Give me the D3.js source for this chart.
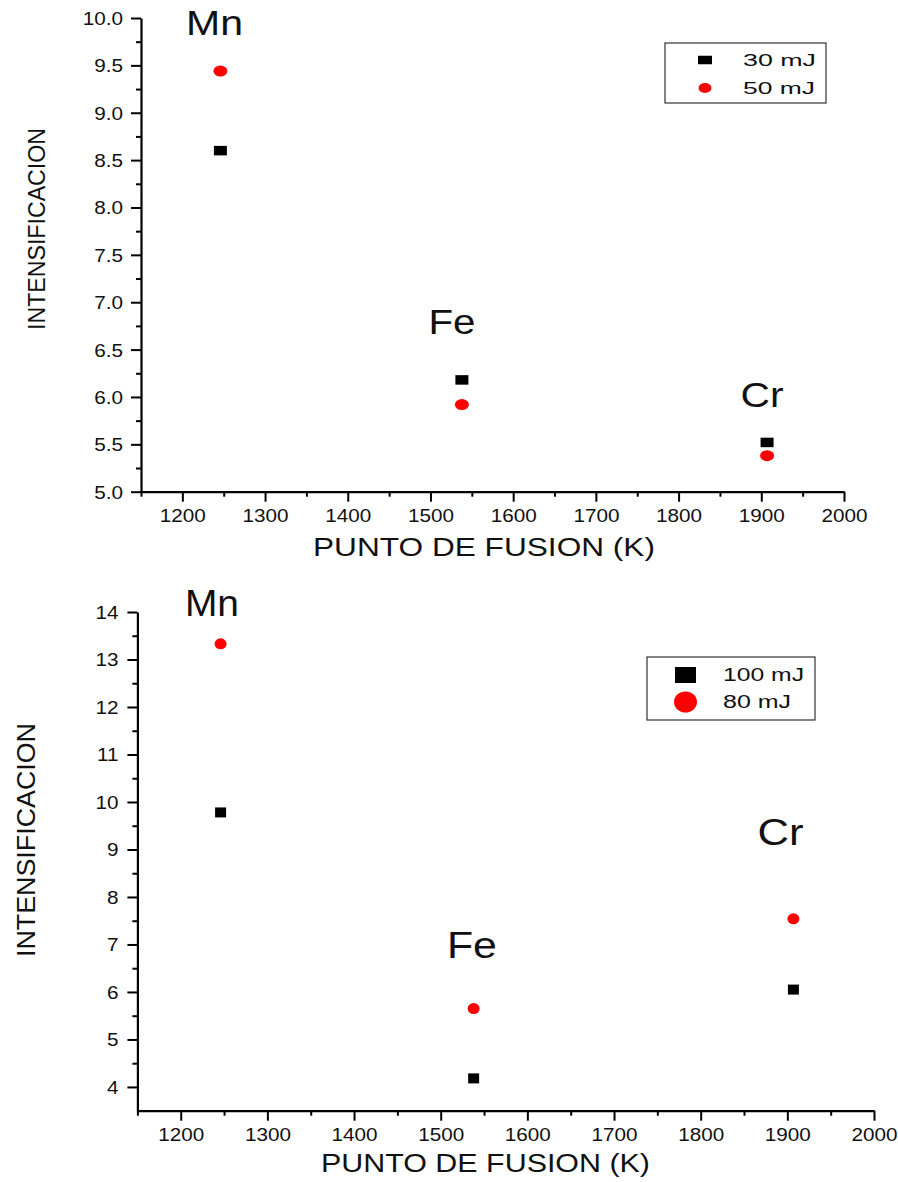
<!DOCTYPE html>
<html>
<head>
<meta charset="utf-8">
<script src="https://cdn.jsdelivr.net/npm/d3@7"></script>
<style>
  html, body { margin: 0; padding: 0; background: #fff; }
  svg { display: block; }
  text { font-family: "Liberation Sans", Arial, sans-serif; fill: #111; }
</style>
</head>
<body>
<svg id="chart" width="898" height="1182"></svg>
<script>
// ---------- DATA ----------
const elements = ["Mn", "Fe", "Cr"];
const meltingPoints = [1246, 1538, 1907];          // K

// Top panel
const topSeriesNames = ["30 mJ", "50 mJ"];
const top30 = [8.60, 6.18, 5.52];
const top50 = [9.44, 5.92, 5.38];
const topYTicks = [5.0, 5.5, 6.0, 6.5, 7.0, 7.5, 8.0, 8.5, 9.0, 9.5, 10.0];
// element label anchors in data units [K, value]
const topLabelK = [1239, 1526, 1901];
const topLabelV = [9.82, 6.665, 5.894];

// Bottom panel
const botSeriesNames = ["100 mJ", "80 mJ"];
const bot100 = [9.78, 4.18, 6.05];
const bot80 = [13.33, 5.65, 7.54];
const botYTicks = [4, 5, 6, 7, 8, 9, 10, 11, 12, 13, 14];
const botLabelK = [1236, 1536, 1892];
const botLabelV = [13.92, 6.72, 9.09];

const xTicks = [1200, 1300, 1400, 1500, 1600, 1700, 1800, 1900, 2000];
const xMinorTicks = [1150, 1250, 1350, 1450, 1550, 1650, 1750, 1850, 1950];
const xLabel = "PUNTO DE FUSION (K)";
const yLabel = "INTENSIFICACION";

// ---------- DRAW ----------
const svg = d3.select("#chart");
const SX = 1.15; // horizontal stretch of the original rendering

function panel(cfg) {
  const g = svg.append("g");
  const x = d3.scaleLinear().domain([1150, 2000]).range(cfg.xRange);
  const y = d3.scaleLinear().domain(cfg.yDomain).range(cfg.yRange);

  // minor ticks
  g.append("g").attr("transform", `translate(0,${cfg.yRange[0]})`)
    .call(d3.axisBottom(x).tickValues(xMinorTicks).tickSize(5).tickFormat(""))
    .call(s => s.select(".domain").remove())
    .selectAll("line").attr("stroke", "#000").attr("stroke-width", 2);
  g.append("g").attr("transform", `translate(${cfg.xRange[0]},0)`)
    .call(d3.axisLeft(y).tickValues(cfg.yMinor).tickSize(5).tickFormat(""))
    .call(s => s.select(".domain").remove())
    .selectAll("line").attr("stroke", "#000").attr("stroke-width", 2);

  // major x axis
  const gx = g.append("g").attr("transform", `translate(0,${cfg.yRange[0]})`)
    .call(d3.axisBottom(x).tickValues(xTicks).tickSize(10).tickSizeOuter(0).tickFormat(d3.format("d")));
  gx.select(".domain").attr("stroke", "#000").attr("stroke-width", 2.2);
  gx.selectAll(".tick line").attr("stroke", "#000").attr("stroke-width", 2);
  gx.selectAll(".tick text")
    .attr("y", null).attr("dy", null)
    .attr("transform", `translate(0,${cfg.xLabelOff}) scale(${SX},1)`)
    .attr("text-anchor", "middle")
    .style("font-size", "18px").style("font-family", '"Liberation Sans", Arial, sans-serif')
    .attr("fill", "#222");

  // major y axis
  const gy = g.append("g").attr("transform", `translate(${cfg.xRange[0]},0)`)
    .call(d3.axisLeft(y).tickValues(cfg.yTicks).tickSize(10).tickSizeOuter(0).tickFormat(cfg.yFormat));
  gy.select(".domain").attr("stroke", "#000").attr("stroke-width", 2.2);
  gy.selectAll(".tick line").attr("stroke", "#000").attr("stroke-width", 2);
  gy.selectAll(".tick text")
    .attr("x", null).attr("dy", "0.36em")
    .attr("transform", `translate(${cfg.yLabelOff},0) scale(${SX},1)`)
    .attr("text-anchor", "end")
    .style("font-size", "18px").style("font-family", '"Liberation Sans", Arial, sans-serif')
    .attr("fill", "#222");

  // axis titles
  g.append("text")
    .attr("x", cfg.xTitle.x).attr("y", cfg.xTitle.y)
    .attr("text-anchor", "middle")
    .attr("textLength", cfg.xTitle.len).attr("lengthAdjust", "spacingAndGlyphs")
    .style("font-size", cfg.xTitle.fs + "px")
    .text(xLabel);
  g.append("text")
    .attr("transform", `translate(${cfg.yTitle.x},${cfg.yTitle.y}) rotate(-90)`)
    .attr("text-anchor", "middle")
    .attr("textLength", cfg.yTitle.len).attr("lengthAdjust", "spacingAndGlyphs")
    .style("font-size", cfg.yTitle.fs + "px")
    .text(yLabel);

  // element labels
  elements.forEach((el, i) => {
    g.append("text")
      .attr("x", x(cfg.labelK[i])).attr("y", y(cfg.labelV[i]))
      .attr("text-anchor", "middle")
      .attr("textLength", cfg.labelLen[i]).attr("lengthAdjust", "spacingAndGlyphs")
      .style("font-size", cfg.labelFs + "px")
      .attr("fill", "#000")
      .text(el);
  });

  // points: squares (series A) and circles (series B)
  const sq = cfg.sq, ci = cfg.ci;
  g.selectAll("rect.pt").data(cfg.sA).join("rect").attr("class", "pt")
    .attr("x", (d, i) => x(meltingPoints[i]) - sq[0] / 2)
    .attr("y", d => y(d) - sq[1] / 2)
    .attr("width", sq[0]).attr("height", sq[1])
    .attr("fill", "#000");
  g.selectAll("ellipse.pt").data(cfg.sB).join("ellipse").attr("class", "pt")
    .attr("cx", (d, i) => x(meltingPoints[i]))
    .attr("cy", d => y(d))
    .attr("rx", ci[0]).attr("ry", ci[1])
    .attr("fill", "#ff0000");

  // legend
  const L = cfg.legend;
  const lg = g.append("g");
  lg.append("rect").attr("x", L.x).attr("y", L.y).attr("width", L.w).attr("height", L.h)
    .attr("fill", "#fff").attr("stroke", "#333").attr("stroke-width", 1.2);
  lg.append("rect")
    .attr("x", L.mx - L.sq[0] / 2).attr("y", L.y1 - L.sq[1] / 2)
    .attr("width", L.sq[0]).attr("height", L.sq[1]).attr("fill", "#000");
  lg.append("ellipse").attr("cx", L.mx).attr("cy", L.y2)
    .attr("rx", L.ci[0]).attr("ry", L.ci[1]).attr("fill", "#ff0000");
  cfg.names.forEach((n, i) => {
    lg.append("text")
      .attr("x", L.tx).attr("y", (i === 0 ? L.y1 : L.y2) + L.fs * 0.36)
      .attr("textLength", L.tlen[i]).attr("lengthAdjust", "spacingAndGlyphs")
      .style("font-size", L.fs + "px")
      .text(n);
  });
}

// Top panel
panel({
  xRange: [141, 844],
  yDomain: [5, 10], yRange: [491.7, 18],
  yTicks: topYTicks,
  yMinor: [5.25, 5.75, 6.25, 6.75, 7.25, 7.75, 8.25, 8.75, 9.25, 9.75],
  yFormat: d3.format(".1f"),
  xLabelOff: 30, yLabelOff: -18,
  xTitle: { x: 484, y: 556, len: 342, fs: 25 },
  yTitle: { x: 45, y: 229, len: 202, fs: 23 },
  labelK: topLabelK, labelV: topLabelV, labelLen: [57, 47, 43], labelFs: 35,
  sA: top30, sB: top50,
  sq: [13, 9.5], ci: [7, 5.5],
  names: topSeriesNames,
  legend: { x: 665, y: 43, w: 161, h: 60, mx: 705, y1: 60, y2: 88,
            sq: [14, 8.5], ci: [6.5, 5], tx: 743, tlen: [73, 72], fs: 16 }
});

// Bottom panel
panel({
  xRange: [137.4, 874],
  yDomain: [3.5, 14], yRange: [1110.7, 612],
  yTicks: botYTicks,
  yMinor: [4.5, 5.5, 6.5, 7.5, 8.5, 9.5, 10.5, 11.5, 12.5, 13.5],
  yFormat: d3.format("d"),
  xLabelOff: 30, yLabelOff: -19,
  xTitle: { x: 485.5, y: 1172, len: 329, fs: 26 },
  yTitle: { x: 35, y: 840, len: 234, fs: 25 },
  labelK: botLabelK, labelV: botLabelV, labelLen: [54, 50, 46], labelFs: 36,
  sA: bot100, sB: bot80,
  sq: [11, 10], ci: [6, 5.5],
  names: botSeriesNames,
  legend: { x: 647, y: 657, w: 168, h: 63, mx: 685.5, y1: 675, y2: 702,
            sq: [21, 16], ci: [11.5, 10.5], tx: 723, tlen: [81, 68], fs: 18 }
});
</script>
</body>
</html>
